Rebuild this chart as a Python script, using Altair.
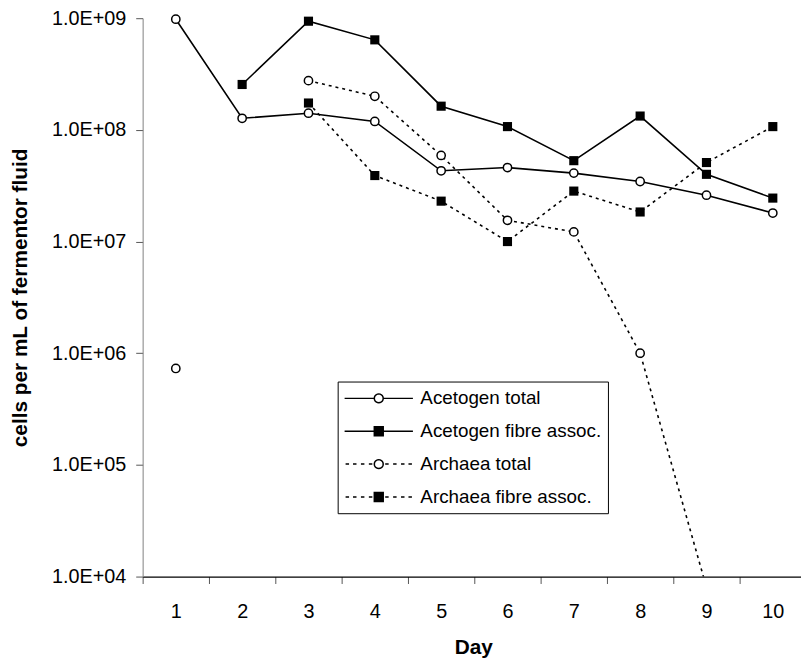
import math
import altair as alt
import pandas as pd

# ---- data ----
days = [1, 2, 3, 4, 5, 6, 7, 8, 9, 10]
series_names = ["Acetogen total", "Acetogen fibre assoc.", "Archaea total", "Archaea fibre assoc."]
acetogen_total = [9.8e8, 1.27e8, 1.41e8, 1.19e8, 4.3e7, 4.6e7, 4.1e7, 3.45e7, 2.6e7, 1.8e7]
acetogen_fibre = [None, 2.55e8, 9.4e8, 6.4e8, 1.63e8, 1.07e8, 5.3e7, 1.33e8, 4.0e7, 2.45e7]
archaea_total = [7.3e5, None, 2.76e8, 2.0e8, 5.9e7, 1.55e7, 1.22e7, 1.0e6, 8.0e3, None]
archaea_fibre = [None, None, 1.74e8, 3.9e7, 2.3e7, 1.0e7, 2.83e7, 1.84e7, 5.1e7, 1.07e8]
y_ticks = [1e4, 1e5, 1e6, 1e7, 1e8, 1e9]
x_tick_bounds = [0.5, 1.5, 2.5, 3.5, 4.5, 5.5, 6.5, 7.5, 8.5, 9.5]

rows = []
for name, vals in zip(series_names, [acetogen_total, acetogen_fibre, archaea_total, archaea_fibre]):
    seg = 0
    prev_none = True
    for d, v in zip(days, vals):
        if v is None:
            prev_none = True
            continue
        if prev_none:
            seg += 1
        prev_none = False
        rows.append({"series": name, "day": d, "value": v, "seg": f"{name}-{seg}"})
df = pd.DataFrame(rows)

FONT = "Liberation Sans"

x_enc = alt.X(
    "day:Q",
    scale=alt.Scale(domain=[0.5, 10.425], nice=False, zero=False),
    axis=alt.Axis(
        values=x_tick_bounds,
        labelExpr="format(datum.value + 0.5, 'd')",
        labelOffset=33.5,
        labelFlush=False,
        labelOverlap=False,
        labelBaseline="alphabetic",
        labelPadding=34,
        tickSize=7,
        tickColor="#555555",
        domainColor="black",
        domainWidth=1.2,
        grid=False,
        title="Day",
        titleBaseline="alphabetic",
        titleY=78,
        titleX=334,
    ),
)
y_enc = alt.Y(
    "value:Q",
    scale=alt.Scale(type="log", domain=[1e4, 1e9], nice=False),
    axis=alt.Axis(
        values=y_ticks,
        labelExpr="'1.0E+0' + format(log(datum.value) / LN10, '.0f')",
        labelPadding=10,
        tickSize=7,
        tickColor="#555555",
        domainColor="#808080",
        domainWidth=1,
        grid=False,
        title="cells per mL of fermentor fluid",
        titleBaseline="alphabetic",
        titleX=-117,
    ),
)

base = alt.Chart(df)
in_range = alt.datum.value >= 1e4
acetogen = alt.FieldOneOfPredicate(field="series", oneOf=["Acetogen total", "Acetogen fibre assoc."])
archaea = alt.FieldOneOfPredicate(field="series", oneOf=["Archaea total", "Archaea fibre assoc."])
totals = alt.FieldOneOfPredicate(field="series", oneOf=["Acetogen total", "Archaea total"])
fibres = alt.FieldOneOfPredicate(field="series", oneOf=["Acetogen fibre assoc.", "Archaea fibre assoc."])

solid_lines = base.transform_filter(acetogen).mark_line(
    clip=True, color="black", strokeWidth=1.6
).encode(x=x_enc, y=y_enc, detail="seg:N")

dashed_lines = base.transform_filter(archaea).mark_line(
    clip=True, color="black", strokeWidth=1.6, strokeDash=[3, 4]
).encode(x=x_enc, y=y_enc, detail="seg:N")

circles = base.transform_filter(totals).transform_filter(in_range).mark_point(
    shape="circle", filled=True, fill="white", stroke="black", strokeWidth=1.5, size=70, opacity=1
).encode(x=x_enc, y=y_enc)

squares = base.transform_filter(fibres).transform_filter(in_range).mark_square(
    color="black", size=85, opacity=1
).encode(x=x_enc, y=y_enc)

# legend symbols: line (solid or dashed) with a marker; path unit = 10 px (symbolSize 400)
R = 0.45
circle_poly = "M" + "L".join(
    f"{R * math.cos(2 * math.pi * k / 20):.3f},{R * math.sin(2 * math.pi * k / 20):.3f}" for k in range(20)
) + "Z"
square_poly = f"M{-R},{-R}L{R},{-R}L{R},{R}L{-R},{R}Z"
solid_part_c = f"M-3.45,0L{-R},0M{R},0L3.45,0"
solid_part_s = "M-3.45,0L3.45,0"
dash_part = ("M-3.35,0L-3.0,0M-2.6,0L-2.25,0M-1.8,0L-1.45,0M-1.0,0L-0.65,0"
             "M0.65,0L1.0,0M1.45,0L1.8,0M2.25,0L2.6,0M3.0,0L3.35,0")
legend_paths = [
    solid_part_c + circle_poly,
    solid_part_s + square_poly,
    dash_part + circle_poly,
    dash_part + square_poly,
]

leg = alt.Legend(
    title=None,
    orient="none",
    legendX=197,
    legendY=367,
    symbolSize=400,
    symbolOffset=24.5,
    labelFont=FONT,
    labelFontSize=19,
    labelColor="black",
    labelOffset=31,
    labelLimit=400,
    strokeColor="black",
    fillColor="white",
    padding=6,
    rowPadding=12.2,
)

legend_layer = base.mark_point(size=0, filled=True, stroke="black", strokeWidth=1.5, opacity=1).encode(
    x=x_enc,
    y=y_enc,
    shape=alt.Shape(
        "series:N",
        scale=alt.Scale(domain=series_names, range=legend_paths),
        legend=leg,
    ),
    fill=alt.Fill(
        "series:N",
        scale=alt.Scale(domain=series_names, range=["white", "black", "white", "black"]),
        legend=leg,
    ),
)

chart = (
    alt.layer(solid_lines, dashed_lines, circles, squares, legend_layer)
    .properties(
        width=665,
        height=564,
        autosize=alt.AutoSizeParams(type="none"),
        padding={"left": 136, "top": 7, "right": 0, "bottom": 85},
        background="white",
    )
    .configure_view(stroke=None)
    .configure_axis(
        labelFont=FONT,
        labelFontSize=20,
        labelColor="black",
        titleFont=FONT,
        titleFontSize=21,
        titleFontWeight="bold",
        titleColor="black",
    )
)

chart.save("out.html", embed_options={"renderer": "svg", "actions": False})
